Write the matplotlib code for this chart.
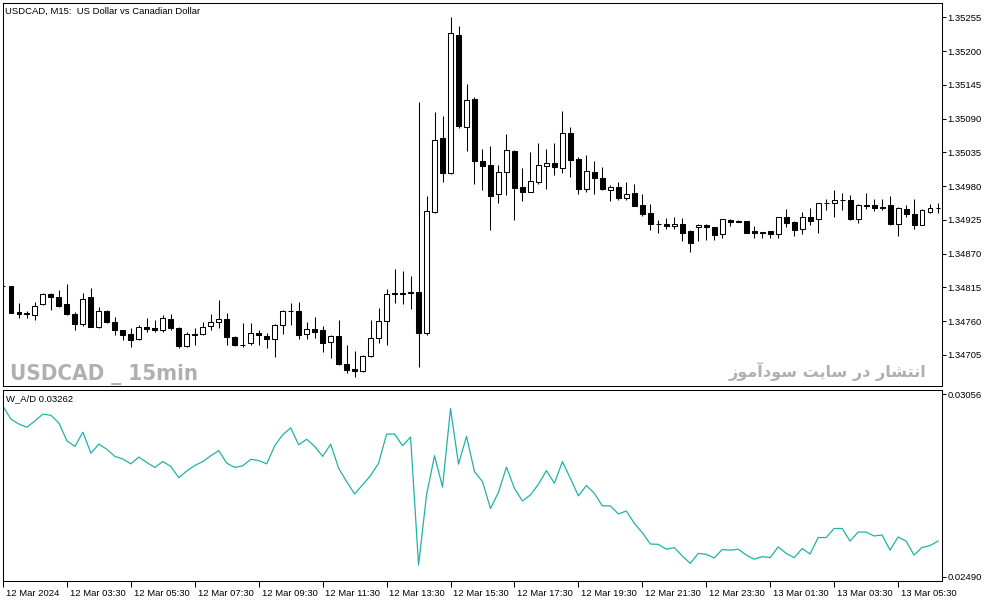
import numpy as np
import matplotlib
matplotlib.use('Agg')
import matplotlib.pyplot as plt
from matplotlib import font_manager
from matplotlib.transforms import ScaledTranslation

# USDCAD M15 bars, prices in points (1e-5)
bar_open = [134817, 134817, 134775, 134772, 134770, 134788, 134804, 134799, 134788, 134772,
            134755, 134799, 134751, 134777, 134758, 134745, 134739, 134731, 134751, 134749,
            134745, 134763, 134749, 134720, 134737, 134740, 134752, 134758, 134763, 134734,
            134721, 134724, 134741, 134736, 134731, 134754, 134776, 134777, 134740, 134747,
            134745, 134726, 134736, 134691, 134682, 134679, 134703, 134732, 134760, 134805,
            134806, 134808, 134808, 134741, 134938, 135058, 135002, 135226, 135076, 135122,
            135021, 135014, 134967, 135003, 135037, 134978, 134971, 134987, 135013, 135018,
            135009, 135066, 135024, 134976, 135003, 134994, 134973, 134978, 134961, 134969,
            134949, 134936, 134918, 134918, 134915, 134918, 134907, 134913, 134916, 134913,
            134902, 134925, 134923, 134923, 134907, 134903, 134907, 134902, 134929, 134922,
            134910, 134929, 134927, 134952, 134952, 134958, 134958, 134927, 134949, 134949,
            134945, 134949, 134918, 134943, 134934, 134917, 134938, 134944]
bar_high = [134819, 134818, 134789, 134776, 134792, 134806, 134806, 134811, 134821, 134775,
            134806, 134814, 134783, 134778, 134767, 134746, 134749, 134754, 134766, 134762,
            134770, 134772, 134750, 134743, 134749, 134759, 134772, 134795, 134773, 134736,
            134757, 134757, 134746, 134741, 134756, 134778, 134789, 134792, 134759, 134767,
            134752, 134738, 134762, 134721, 134712, 134705, 134762, 134781, 134812, 134845,
            134841, 134834, 135117, 134964, 135100, 135094, 135256, 135241, 135146, 135126,
            135040, 135046, 135014, 135065, 135039, 135009, 135035, 135051, 135040, 135050,
            135102, 135077, 135027, 135031, 135021, 135012, 134982, 134987, 134987, 134983,
            134967, 134951, 134925, 134928, 134930, 134928, 134909, 134918, 134918, 134914,
            134927, 134926, 134925, 134924, 134915, 134906, 134907, 134929, 134942, 134924,
            134938, 134944, 134952, 134959, 134973, 134969, 134966, 134951, 134969, 134959,
            134959, 134964, 134946, 134949, 134959, 134942, 134951, 134953]
bar_low = [134815, 134773, 134766, 134766, 134762, 134786, 134778, 134783, 134770, 134746,
           134752, 134750, 134749, 134757, 134738, 134729, 134718, 134729, 134743, 134743,
           134743, 134746, 134716, 134718, 134721, 134738, 134746, 134749, 134721, 134720,
           134718, 134721, 134721, 134716, 134701, 134740, 134754, 134731, 134731, 134732,
           134710, 134700, 134689, 134676, 134669, 134678, 134702, 134725, 134721, 134790,
           134788, 134780, 134686, 134738, 134936, 134986, 135000, 135075, 135037, 134983,
           134973, 134909, 134953, 134966, 134925, 134956, 134970, 134983, 134975, 134998,
           135002, 134995, 134967, 134970, 134967, 134973, 134956, 134957, 134957, 134947,
           134932, 134909, 134904, 134910, 134910, 134891, 134873, 134890, 134893, 134892,
           134896, 134915, 134921, 134903, 134895, 134896, 134895, 134895, 134913, 134899,
           134902, 134917, 134903, 134941, 134930, 134941, 134925, 134920, 134942, 134940,
           134941, 134917, 134899, 134930, 134911, 134916, 134937, 134936]
bar_close = [134817, 134774, 134772, 134773, 134785, 134804, 134800, 134785, 134771, 134755,
             134797, 134751, 134776, 134758, 134745, 134738, 134729, 134751, 134747, 134745,
             134765, 134749, 134720, 134739, 134740, 134751, 134758, 134763, 134734, 134721,
             134722, 134741, 134738, 134731, 134754, 134776, 134777, 134738, 134747, 134743,
             134725, 134736, 134690, 134681, 134679, 134703, 134732, 134760, 134805, 134806,
             134804, 134806, 134741, 134940, 135055, 135002, 135229, 135078, 135120, 135021,
             135013, 134964, 135003, 135039, 134977, 134971, 134988, 135014, 135018, 135012,
             135066, 135023, 134975, 135005, 134994, 134975, 134978, 134961, 134968, 134948,
             134935, 134918, 134919, 134915, 134918, 134903, 134887, 134916, 134914, 134900,
             134926, 134921, 134922, 134904, 134903, 134906, 134902, 134929, 134920, 134909,
             134929, 134924, 134952, 134953, 134958, 134957, 134926, 134949, 134948, 134945,
             134946, 134918, 134944, 134934, 134917, 134941, 134944, 134945]

# W_A/D indicator, in 1e-5 units
ad_values = [3018, 2978, 2963, 2953, 2973, 2994, 2990, 2966, 2911, 2894,
             2938, 2873, 2901, 2885, 2863, 2855, 2840, 2861, 2844, 2829,
             2847, 2832, 2797, 2818, 2835, 2847, 2865, 2881, 2842, 2829,
             2834, 2854, 2850, 2840, 2896, 2930, 2951, 2899, 2916, 2894,
             2863, 2901, 2826, 2785, 2747, 2775, 2804, 2842, 2932, 2932,
             2896, 2923, 2527, 2744, 2865, 2768, 3011, 2839, 2925, 2816,
             2785, 2702, 2752, 2830, 2764, 2725, 2744, 2777, 2819, 2780,
             2847, 2795, 2741, 2773, 2749, 2710, 2710, 2685, 2694, 2656,
             2627, 2592, 2591, 2576, 2581, 2555, 2532, 2563, 2560, 2549,
             2575, 2573, 2576, 2558, 2545, 2553, 2550, 2583, 2563, 2550,
             2578, 2561, 2612, 2612, 2640, 2640, 2601, 2629, 2629, 2617,
             2620, 2573, 2614, 2601, 2558, 2581, 2587, 2601]

time_labels = ['12 Mar 2024', '12 Mar 03:30', '12 Mar 05:30', '12 Mar 07:30', '12 Mar 09:30',
               '12 Mar 11:30', '12 Mar 13:30', '12 Mar 15:30', '12 Mar 17:30', '12 Mar 19:30',
               '12 Mar 21:30', '12 Mar 23:30', '13 Mar 01:30', '13 Mar 03:30', '13 Mar 05:30']
time_label_bars = [0, 8, 16, 24, 32, 40, 48, 56, 64, 72, 80, 88, 96, 104, 112]
price_ticks = [134705, 134760, 134815, 134870, 134925, 134980, 135035, 135090, 135145, 135200, 135255]
ad_ticks = [2490, 3056]

title = 'USDCAD, M15:  US Dollar vs Canadian Dollar'
ind_label = 'W_A/D 0.03262'
wm_left = 'USDCAD _ 15min'
wm_right = 'انتشار در سایت سودآموز'

W, H = 994, 603
FONT = 'Liberation Sans'
FS = 6.8
LW = 0.75

# minimal arabic shaping (matplotlib has no complex text layout)
forms = {
    'ا': ('\uFE8D', '\uFE8E', None, None),
    'آ': ('\uFE81', '\uFE82', None, None),
    'ن': ('\uFEE5', '\uFEE6', '\uFEE7', '\uFEE8'),
    'ت': ('\uFE95', '\uFE96', '\uFE97', '\uFE98'),
    'ش': ('\uFEB5', '\uFEB6', '\uFEB7', '\uFEB8'),
    'ر': ('\uFEAD', '\uFEAE', None, None),
    'د': ('\uFEA9', '\uFEAA', None, None),
    'س': ('\uFEB1', '\uFEB2', '\uFEB3', '\uFEB4'),
    'ی': ('\uFEEF', '\uFEF0', '\uFEF3', '\uFEF4'),
    'و': ('\uFEED', '\uFEEE', None, None),
    'م': ('\uFEE1', '\uFEE2', '\uFEE3', '\uFEE4'),
    'ز': ('\uFEAF', '\uFEB0', None, None),
}


def shape(text):
    out = []
    for i, ch in enumerate(text):
        if ch not in forms:
            out.append(ch)
            continue
        prev = text[i - 1] if i > 0 else ' '
        nxt = text[i + 1] if i + 1 < len(text) else ' '
        jp = prev in forms and forms[prev][2] is not None
        jn = nxt in forms and forms[ch][2] is not None
        iso, fin, ini, med = forms[ch]
        if jp and jn:
            out.append(med)
        elif jp:
            out.append(fin)
        elif jn:
            out.append(ini)
        else:
            out.append(iso)
    return ''.join(reversed(out))


names = {f.name for f in font_manager.fontManager.ttflist}
narrow = 'Liberation Sans Narrow' in names

x = np.arange(len(bar_open))
o = np.array(bar_open) / 1e5
h = np.array(bar_high) / 1e5
l = np.array(bar_low) / 1e5
c = np.array(bar_close) / 1e5
ad = np.array(ad_values) / 1e5

fig = plt.figure(figsize=(W / 100, H / 100), dpi=100)
ax = fig.add_axes([3 / W, 1 - 386 / H, 939 / W, 383 / H])
ax2 = fig.add_axes([3 / W, 1 - 581 / H, 939 / W, 191 / H])

# candles
up = c > o
dn = c < o
fl = c == o
ax.vlines(x, l, h, color='black', linewidth=LW, zorder=2)
ax.bar(x[up], (c - o)[up], bottom=o[up], width=0.62, facecolor='white',
       edgecolor='black', linewidth=LW, zorder=3)
ax.bar(x[dn], (o - c)[dn], bottom=c[dn], width=0.62, facecolor='black',
       edgecolor='black', linewidth=LW, zorder=3)
ax.hlines(o[fl], x[fl] - 0.31, x[fl] + 0.31, color='black', linewidth=LW, zorder=3)

ax.set_xlim(0, 117.5)
ax.set_ylim(1.346545, 1.352783)
ax.set_xticks([])
ax.yaxis.tick_right()
ax.set_yticks(np.array(price_ticks) / 1e5)
ax.set_yticklabels(['%.5f' % (p / 1e5) for p in price_ticks])
ax.tick_params(axis='y', direction='out', length=3, width=LW, pad=1,
               labelsize=FS, labelfontfamily=FONT)

# indicator
ax2.plot(x, ad, color='#20b2aa', linewidth=0.9)
ax2.set_xlim(0, 117.5)
ax2.set_ylim(0.024776, 0.030684)
ax2.yaxis.tick_right()
ax2.set_yticks(np.array(ad_ticks) / 1e5)
ax2.set_yticklabels(['%.5f' % (v / 1e5) for v in ad_ticks])
ax2.tick_params(axis='y', direction='out', length=3, width=LW, pad=1,
                labelsize=FS, labelfontfamily=FONT)
ax2.set_xticks(time_label_bars)
ax2.set_xticklabels(time_labels, ha='left')
ax2.tick_params(axis='x', direction='out', length=4, width=LW, pad=1.5,
                labelsize=FS, labelfontfamily=FONT)
for lab in ax2.get_xticklabels():
    lab.set_transform(lab.get_transform() + ScaledTranslation(2 / 72, 0, fig.dpi_scale_trans))

for a in (ax, ax2):
    for s in a.spines.values():
        s.set_linewidth(LW)
        s.set_color('black')

fig.text(5 / W, 1 - 13.5 / H, title, fontsize=FS, family=FONT, va='baseline')
fig.text(6 / W, 1 - 401.5 / H, ind_label, fontsize=FS, family=FONT, va='baseline')

if narrow:
    t1 = fig.text(10 / W, 1 - 380 / H, wm_left, fontsize=20, family='Liberation Sans Narrow',
                  weight='bold', color='#b0b0b0', va='baseline')
else:
    t1 = fig.text(10 / W, 1 - 380 / H, wm_left, fontsize=20, family='DejaVu Sans',
                  stretch='condensed', weight='bold', color='#b0b0b0', va='baseline')
t2 = fig.text(926 / W, 1 - 377 / H, shape(wm_right), fontsize=14, family='DejaVu Sans',
              weight='bold', color='#b0b0b0', va='baseline', ha='right')

# fit watermark widths to the reference
fig.canvas.draw()
r = fig.canvas.get_renderer()
for t, target in ((t1, 188), (t2, 198)):
    w = t.get_window_extent(r).width
    t.set_fontsize(t.get_fontsize() * target / w)

fig.savefig('out.png', dpi=100, facecolor='white')
